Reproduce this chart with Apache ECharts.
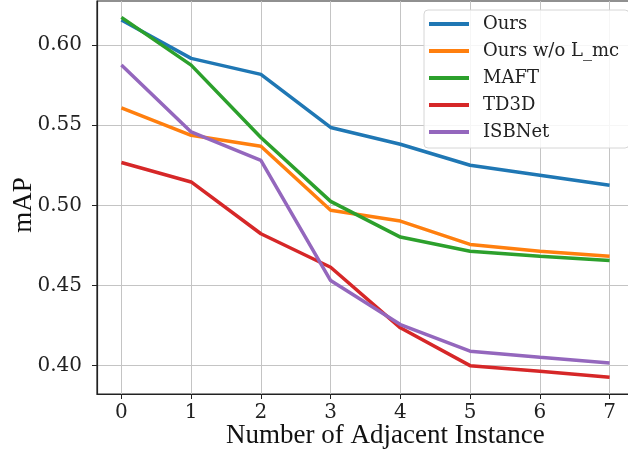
<!DOCTYPE html>
<html>
<head>
<meta charset="utf-8">
<script src="https://cdn.jsdelivr.net/npm/echarts@6/dist/echarts.min.js"></script>
<style>
  html, body { margin: 0; padding: 0; background: #fff; }
  #chart { width: 628px; height: 457px; }
</style>
</head>
<body>
<div id="chart"></div>
<script>
var steps = [0, 1, 2, 3, 4, 5, 6, 7];
var yTicks = [0.40, 0.45, 0.50, 0.55, 0.60];

var ours      = [0.6156, 0.5917, 0.5817, 0.5486, 0.5381, 0.5250, 0.5188, 0.5125];
var oursNoLmc = [0.5608, 0.5437, 0.5369, 0.4969, 0.4902, 0.4756, 0.4714, 0.4683];
var maft      = [0.6173, 0.5875, 0.5423, 0.5025, 0.4802, 0.4714, 0.4683, 0.4656];
var td3d      = [0.5267, 0.5146, 0.4823, 0.4614, 0.4236, 0.4000, 0.3965, 0.3927];
var isbnet    = [0.5875, 0.5458, 0.5281, 0.4531, 0.4256, 0.4090, 0.4052, 0.4017];

window.onload = function () {
  var myChart = echarts.init(document.getElementById('chart'));

  function pairs(vals) {
    return steps.map(function (x, i) { return [x, vals[i]]; });
  }
  function line(name, vals, color) {
    return {
      name: name,
      type: 'line',
      data: pairs(vals),
      symbol: 'none',
      lineStyle: { width: 3.5, color: color },
      itemStyle: { color: color },
      z: 3
    };
  }

  var tickFont = { fontFamily: 'DejaVu Serif', fontSize: 20, color: '#222' };

  var option = {
    animation: false,
    grid: {
      left: 97, width: 537, top: 1, bottom: 63,
      outerBoundsMode: 'none',
      containLabel: false,
      show: true, borderColor: '#222', borderWidth: 1.2
    },
    legend: {
      orient: 'vertical',
      left: 424, top: 10,
      icon: 'rect',
      itemWidth: 40, itemHeight: 4,
      itemGap: 9,
      padding: [5, 10, 7, 5],
      backgroundColor: 'rgba(255,255,255,0.85)',
      borderColor: '#d6d6d6', borderWidth: 1, borderRadius: 4,
      selectedMode: false,
      textStyle: { fontFamily: 'DejaVu Serif', fontSize: 18, color: '#222', padding: [0, 0, 0, 9] },
      data: ['Ours', 'Ours w/o L_mc', 'MAFT', 'TD3D', 'ISBNet']
    },
    xAxis: {
      type: 'value',
      min: -0.35, max: 7.35,
      axisLine: { show: true, onZero: false, lineStyle: { color: '#222', width: 1.2 } },
      axisTick: { show: true, length: 5, customValues: steps, lineStyle: { color: '#222' } },
      axisLabel: Object.assign({ margin: 9, customValues: steps }, tickFont),
      splitLine: { show: true, lineStyle: { color: '#c4c4c4', width: 1 } }
    },
    yAxis: {
      type: 'value',
      min: 0.3823, max: 0.6275,
      axisLine: { show: true, onZero: false, lineStyle: { color: '#222', width: 1.2 } },
      axisTick: { show: true, length: 5, customValues: yTicks, lineStyle: { color: '#222' } },
      axisLabel: Object.assign({
        margin: 15, customValues: yTicks,
        formatter: function (v) { return v.toFixed(2); }
      }, tickFont),
      splitLine: { show: true, lineStyle: { color: '#c4c4c4', width: 1 } }
    },
    graphic: [
      {
        type: 'text', left: 226, top: 422,
        style: { text: 'Number of Adjacent Instance', font: '27px "Liberation Serif"', fill: '#111' }
      },
      {
        type: 'text', x: 24, y: 205, rotation: Math.PI / 2,
        style: { text: 'mAP', font: '27px "Liberation Serif"', fill: '#111', align: 'center', verticalAlign: 'middle' }
      }
    ],
    series: [
      line('Ours', ours, '#1f77b4'),
      line('Ours w/o L_mc', oursNoLmc, '#ff7f0e'),
      line('MAFT', maft, '#2ca02c'),
      line('TD3D', td3d, '#d62728'),
      line('ISBNet', isbnet, '#9467bd')
    ]
  };
  myChart.setOption(option);
};
</script>
</body>
</html>
